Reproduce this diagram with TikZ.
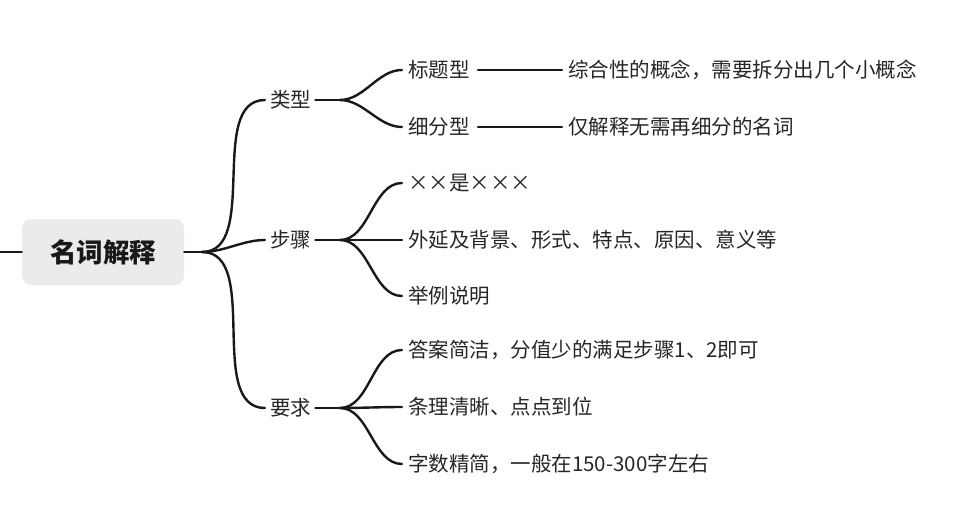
\documentclass[tikz,border=0pt]{standalone}
\usepackage{fontspec}
\setmainfont{Noto Sans CJK SC}
\begin{document}
\begin{tikzpicture}[x=1pt,y=-1pt,
  lbl/.style={anchor=west,inner sep=0pt,font=\fontsize{20.5}{24}\selectfont,text=black!85},
  edge/.style={line width=2.4pt,black!90,line cap=round},
  br/.style={edge,out=0,in=180,looseness=0.9}]
\useasboundingbox (0,0) rectangle (956,522);
\node[fill=black!8,rounded corners=9pt,minimum width=162pt,minimum height=66pt,font=\fontsize{26.5}{30}\selectfont\bfseries,text=black!90] (root) at (103,252) {名词解释};
\coordinate (L) at (0,252);
\draw[edge] (L) -- (root.west);
\coordinate (R) at (202,252);
\draw[edge] (root.east) -- (R);
% level 1
\node[lbl] (a) at (270,100) {类型};
\node[lbl] (b) at (270,240) {步骤};
\node[lbl] (c) at (270,408) {要求};
\foreach \n in {a,b,c}{\draw[br] (R) to ([xshift=-5pt]\n.west);}
\foreach \n/\y in {a/100,b/240,c/408}{\coordinate (\n o) at (340,\y);}
% level 2
\node[lbl] (a1) at (408,70) {标题型};
\node[lbl] (a2) at (408,127) {细分型};
\node[lbl] (b1) at (408,183) {××是×××};
\node[lbl] (b2) at (408,240) {外延及背景、形式、特点、原因、意义等};
\node[lbl] (b3) at (408,296) {举例说明};
\node[lbl] (c1) at (408,350) {答案简洁，分值少的满足步骤1、2即可};
\node[lbl] (c2) at (408,407) {条理清晰、点点到位};
\node[lbl] (c3) at (408,464) {字数精简，一般在150-300字左右};
\foreach \p/\n in {a/a1,a/a2,b/b1,b/b2,b/b3,c/c1,c/c2,c/c3}{
  \draw[br] (\p o) to ([xshift=-6pt]\n.west);}
\foreach \p in {a,b,c}{\draw[edge] ([xshift=4pt]\p.east) -- (\p o);}
% level 3
\node[lbl] (a11) at (568,70) {综合性的概念，需要拆分出几个小概念};
\node[lbl] (a21) at (568,127) {仅解释无需再细分的名词};
\draw[edge] ([xshift=8pt]a1.east) -- ([xshift=-6pt]a11.west);
\draw[edge] ([xshift=8pt]a2.east) -- ([xshift=-6pt]a21.west);
\end{tikzpicture}
\end{document}
